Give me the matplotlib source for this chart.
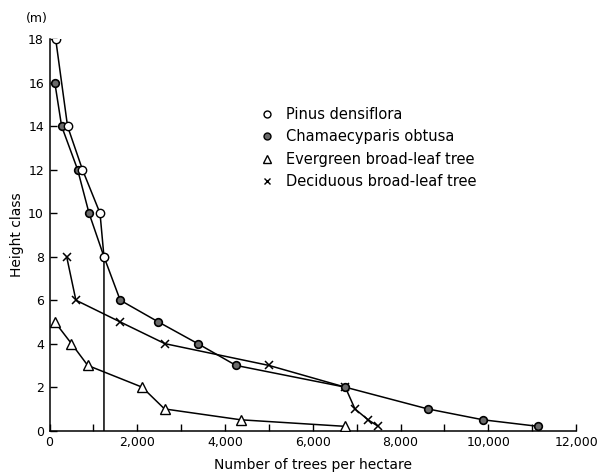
import matplotlib
matplotlib.use("Agg")
import matplotlib.pyplot as plt
from matplotlib.lines import Line2D
from matplotlib.ticker import MultipleLocator, FuncFormatter

# Data (trees per hectare, height class in m)
pinus_x = [140, 410, 750, 1150, 1240, 1240]
pinus_y = [18, 14, 12, 10, 8, 0]

chama_x = [120, 275, 640, 900, 1240, 1610, 2480, 3380, 4250, 6740, 8620, 9880, 11130]
chama_y = [16, 14, 12, 10, 8, 6, 5, 4, 3, 2, 1, 0.5, 0.2]

evergreen_x = [120, 500, 870, 2110, 2620, 4360, 6730]
evergreen_y = [5, 4, 3, 2, 1, 0.5, 0.2]

decid_x = [390, 600, 1610, 2630, 5000, 6740, 6960, 7260, 7490]
decid_y = [8, 6, 5, 4, 3, 2, 1, 0.5, 0.2]

labels = ["Pinus densiflora", "Chamaecyparis obtusa",
          "Evergreen broad-leaf tree", "Deciduous broad-leaf tree"]

x_ticks = [0, 2000, 4000, 6000, 8000, 10000, 12000]
y_ticks = [0, 2, 4, 6, 8, 10, 12, 14, 16, 18]

plt.rcParams['font.family'] = ['DejaVu Sans']

fig = plt.figure(figsize=(5.97, 4.75), dpi=100)
ax = fig.add_axes([0.083, 0.0933, 0.882, 0.8242])

lw = 1.1
fill_gray = '#6a6a6a'

# Deciduous (crosses)
ax.plot(decid_x, decid_y, color='black', lw=lw, marker='x', ms=6,
        mec='black', mew=1.1, zorder=2)
# Evergreen (open triangles)
ax.plot(evergreen_x, evergreen_y, color='black', lw=lw, marker='^', ms=7,
        mfc='white', mec='black', mew=1.0, zorder=3)
# Chamaecyparis (filled circles)
ax.plot(chama_x, chama_y, color='black', lw=lw, marker='o', ms=5.5,
        mfc=fill_gray, mec='black', mew=1.2, zorder=4)
# Pinus (open circles) with vertical drop
ax.plot(pinus_x, pinus_y, color='black', lw=lw, marker='o', ms=6,
        mfc='white', mec='black', mew=1.0, markevery=list(range(len(pinus_x) - 1)),
        zorder=5)

ax.set_xlim(0, 12000)
ax.set_ylim(0, 18)
ax.set_xticks(x_ticks)
ax.set_yticks(y_ticks)
ax.xaxis.set_minor_locator(MultipleLocator(1000))
ax.xaxis.set_major_formatter(FuncFormatter(lambda v, p: f"{int(v):,}"))

for s in ['top', 'right']:
    ax.spines[s].set_visible(False)
for s in ['left', 'bottom']:
    ax.spines[s].set_linewidth(1.1)

ax.tick_params(axis='both', which='major', direction='in', length=5, width=1,
               labelsize=9, pad=4)
ax.tick_params(axis='x', which='minor', direction='in', length=5, width=1)

ax.set_xlabel("Number of trees per hectare", fontsize=10, labelpad=6)
ax.set_ylabel("Height class", fontsize=10, labelpad=3)
ax.text(-0.025, 1.035, "(m)", transform=ax.transAxes, fontsize=9,
        ha='center', va='bottom')

handles = [
    Line2D([], [], ls='none', marker='o', ms=5, mfc='white', mec='black'),
    Line2D([], [], ls='none', marker='o', ms=5, mfc=fill_gray, mec='black'),
    Line2D([], [], ls='none', marker='^', ms=6, mfc='white', mec='black'),
    Line2D([], [], ls='none', marker='x', ms=5, mec='black'),
]
ax.legend(handles, labels, loc='upper left', bbox_to_anchor=(0.375, 0.86),
          frameon=False, fontsize=10.5, handlelength=1.0, handletextpad=0.8,
          labelspacing=0.5)

fig.savefig("out.png", dpi=100)
